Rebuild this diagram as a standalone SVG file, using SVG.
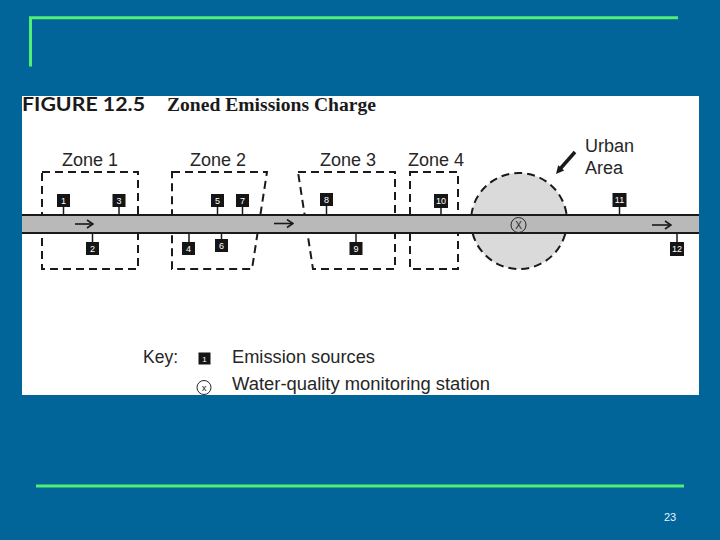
<svg xmlns="http://www.w3.org/2000/svg" width="720" height="540" viewBox="0 0 720 540">
<defs>
<style>
.zone{fill:none;stroke:#1a1a1a;stroke-width:2;stroke-dasharray:8 5}
.src rect{fill:#151515}
.src text{fill:#ffffff;font-family:"Liberation Sans",Arial,sans-serif;font-size:9px;text-anchor:middle}
.lbl{font-family:"Liberation Sans",Arial,sans-serif;font-size:18px;fill:#262626}
.key{font-family:"Liberation Sans",Arial,sans-serif;font-size:17.5px;fill:#262626}
.stem{stroke:#1a1a1a;stroke-width:1.5}
.flow{stroke:#1a1a1a;stroke-width:1.6;fill:none;marker-end:url(#chev)}
.edge{stroke:#1a1a1a;stroke-width:1.8}
.green{stroke:#4ff074;stroke-width:3;fill:none}
</style>
<marker id="chev" viewBox="0 0 10 10" refX="9" refY="5" markerWidth="10" markerHeight="10" orient="auto" markerUnits="userSpaceOnUse">
<path d="M3,1 L9,5 L3,9" fill="none" stroke="#1a1a1a" stroke-width="1.6"/>
</marker>
</defs>
<rect x="0" y="0" width="720" height="540" fill="#02659a"/>
<path class="green" d="M30.5,66.5 V17.8 H678"/>
<line class="green" x1="36" y1="486" x2="684" y2="486"/>
<text x="670" y="521" font-family="Liberation Sans Narrow,Liberation Sans,Arial,sans-serif" font-size="11" fill="#e6f2ff" text-anchor="middle">23</text>

<rect x="22" y="96" width="677" height="299" fill="#ffffff"/>
<text x="22" y="111" font-family="Lato,'Liberation Sans',sans-serif" font-weight="bold" font-size="19" fill="#1a1a1a" textLength="123" lengthAdjust="spacingAndGlyphs">FIGURE 12.5</text>
<text x="167" y="111" font-family="'Liberation Serif',serif" font-weight="bold" font-size="18" fill="#1a1a1a" textLength="209" lengthAdjust="spacingAndGlyphs">Zoned Emissions Charge</text>

<g id="zone1"><rect class="zone" x="42" y="172" width="96" height="97"/><text class="lbl" x="62" y="166">Zone 1</text></g>
<g id="zone2"><path class="zone" d="M172,172 H267 L252,269 H172 Z"/><text class="lbl" x="190" y="166">Zone 2</text></g>
<g id="zone3"><path class="zone" d="M298,172 H395 V269 H313 Z"/><text class="lbl" x="320" y="166">Zone 3</text></g>
<g id="zone4"><rect class="zone" x="410" y="172" width="48" height="97"/><text class="lbl" x="408" y="166">Zone 4</text></g>

<g id="urban-area">
<circle cx="519" cy="221" r="48" fill="#dadada" stroke="#1a1a1a" stroke-width="2" stroke-dasharray="8 5"/>
<text class="lbl" x="585" y="152">Urban</text>
<text class="lbl" x="585" y="174">Area</text>
<line x1="575" y1="152" x2="560" y2="169" stroke="#1a1a1a" stroke-width="3.5"/>
<polygon points="556,174 564.2,170.4 558.2,165.2" fill="#1a1a1a"/>
</g>

<g id="river">
<rect x="22" y="215" width="677" height="18" fill="#b9b9b9"/>
<line class="edge" x1="22" y1="215" x2="699" y2="215"/>
<line class="edge" x1="22" y1="233" x2="699" y2="233"/>
</g>

<g id="connectors">
<line class="flow" x1="75" y1="224" x2="93" y2="224"/>
<line class="flow" x1="274" y1="223.5" x2="293" y2="223.5"/>
<line class="flow" x1="652" y1="225" x2="671" y2="225"/>
<line class="stem" x1="63.5" y1="207" x2="63.5" y2="215"/>
<line class="stem" x1="119" y1="207" x2="119" y2="215"/>
<line class="stem" x1="92.5" y1="233" x2="92.5" y2="242"/>
<line class="stem" x1="217.5" y1="207" x2="217.5" y2="215"/>
<line class="stem" x1="242.5" y1="207" x2="242.5" y2="215"/>
<line class="stem" x1="189" y1="233" x2="189" y2="242"/>
<line class="stem" x1="221.5" y1="233" x2="221.5" y2="239"/>
<line class="stem" x1="326.5" y1="206" x2="326.5" y2="215"/>
<line class="stem" x1="356" y1="233" x2="356" y2="242"/>
<line class="stem" x1="441" y1="208" x2="441" y2="215"/>
<line class="stem" x1="619.5" y1="207" x2="619.5" y2="215"/>
<line class="stem" x1="677" y1="233" x2="677" y2="242"/>
</g>

<g id="src1" class="src"><rect x="57" y="194" width="13" height="13"/><text x="63.5" y="203.5">1</text></g>
<g id="src3" class="src"><rect x="112.5" y="194" width="13" height="13"/><text x="119" y="203.5">3</text></g>
<g id="src2" class="src"><rect x="86" y="242" width="13" height="13"/><text x="92.5" y="251.5">2</text></g>
<g id="src5" class="src"><rect x="211" y="194" width="13" height="13"/><text x="217.5" y="203.5">5</text></g>
<g id="src7" class="src"><rect x="236" y="194" width="13" height="13"/><text x="242.5" y="203.5">7</text></g>
<g id="src4" class="src"><rect x="182" y="242" width="13" height="13"/><text x="188.5" y="251.5">4</text></g>
<g id="src6" class="src"><rect x="215" y="239" width="13" height="13"/><text x="221.5" y="248.5">6</text></g>
<g id="src8" class="src"><rect x="320" y="193" width="13" height="13"/><text x="326.5" y="202.5">8</text></g>
<g id="src9" class="src"><rect x="349.5" y="242" width="13" height="13"/><text x="356" y="251.5">9</text></g>
<g id="src10" class="src"><rect x="434" y="194" width="14" height="14"/><text x="441" y="204">10</text></g>
<g id="src11" class="src"><rect x="612.5" y="193" width="14" height="14"/><text x="619.5" y="203">11</text></g>
<g id="src12" class="src"><rect x="670" y="242" width="14" height="14"/><text x="677" y="252">12</text></g>

<g id="station">
<circle cx="518.5" cy="225" r="7.5" fill="none" stroke="#262626" stroke-width="1"/>
<text x="518.5" y="228.6" font-family="'Liberation Sans',Arial,sans-serif" font-size="10" fill="#262626" text-anchor="middle">X</text>
</g>

<g id="key">
<text class="key" x="143" y="363">Key:</text>
<g class="src"><rect x="198.5" y="352.5" width="12" height="12"/><text x="204.5" y="361.5" style="font-size:8px">1</text></g>
<text class="key" x="232" y="363" textLength="143" lengthAdjust="spacingAndGlyphs">Emission sources</text>
<circle cx="204" cy="387.5" r="7" fill="none" stroke="#262626" stroke-width="1"/>
<text x="204" y="391" font-family="'Liberation Sans',Arial,sans-serif" font-size="9.5" fill="#262626" text-anchor="middle">x</text>
<text class="key" x="232" y="390" textLength="258" lengthAdjust="spacingAndGlyphs">Water-quality monitoring station</text>
</g>
</svg>
